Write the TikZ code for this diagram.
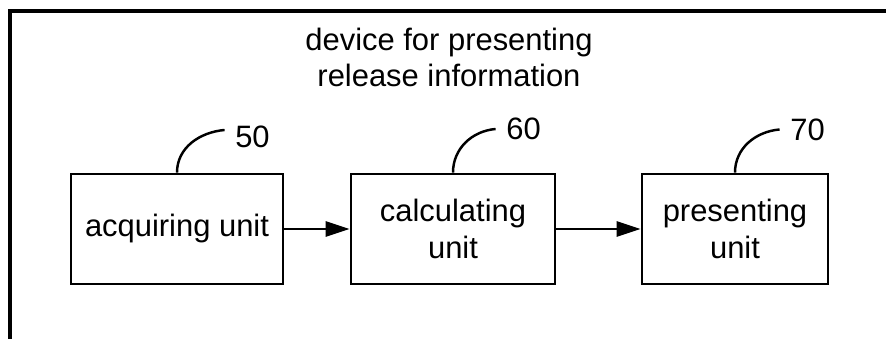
\documentclass[tikz,border=0pt]{standalone}
\usepackage{fontspec}
\setmainfont{Liberation Sans}
\usetikzlibrary{arrows.meta}

\begin{document}
\begin{tikzpicture}
[
every node/.style={font=\fontsize{8.8}{10.4}\selectfont},
Frame/.style={draw=black, line width=0.95pt},
Unit/.style={rectangle, draw=black, line width=0.8pt, minimum height=1.10cm, align=center, inner sep=0pt},
Title/.style={align=center, inner sep=0pt},
Number/.style={inner sep=0.1cm},
Leader/.style={draw=black, line width=0.7pt},
FlowArrow/.style={-{Triangle[length=0.24cm,width=0.15cm]}, line width=0.8pt, draw=black},
]

\useasboundingbox (0,0) rectangle (8.86,3.39);

% open frame round the device
\draw[Frame] (0.10,0)--(0.10,3.28)--(8.86,3.28);

\node[Title] (title) at (4.49,2.815) {device for presenting\\release information};

\node[Unit, minimum width=2.12cm] (acq)  at (1.77,1.10) {acquiring unit};
\node[Unit, minimum width=2.04cm] (calc) at (4.53,1.10) {calculating\\unit};
\node[Unit, minimum width=1.86cm] (pres) at (7.35,1.10) {presenting\\unit};

\node[Number] (n50) at (2.525,2.02) {50};
\node[Number] (n60) at (5.235,2.10) {60};
\node[Number] (n70) at (8.075,2.095) {70};

\draw[Leader] (acq.north)  to[out=90,in=185] ([yshift=0.07cm]n50.west);
\draw[Leader] (calc.north) to[out=90,in=185] (n60.west);
\draw[Leader] (pres.north) to[out=90,in=185] (n70.west);

\draw[FlowArrow] (acq.east)--(calc.west);
\draw[FlowArrow] (calc.east)--(pres.west);

\end{tikzpicture}
\end{document}
